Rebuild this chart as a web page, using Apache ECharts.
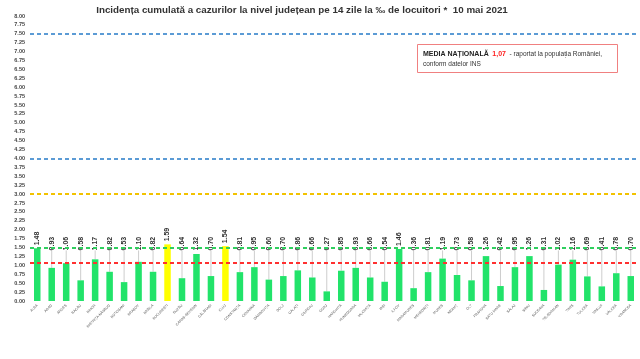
<!DOCTYPE html>
<html><head><meta charset="utf-8">
<script src="https://cdn.jsdelivr.net/npm/echarts@6/dist/echarts.min.js"></script>
<style>html,body{margin:0;padding:0;background:#fff}#c{width:640px;height:359px}</style>
</head><body><div id="c"></div>
<script>
const counties = ['ALBA','ARAD','ARGEȘ','BACĂU','BIHOR','BISTRIȚA-NĂSĂUD','BOTOȘANI','BRAȘOV','BRĂILA','BUCUREȘTI','BUZĂU','CARAȘ-SEVERIN','CĂLĂRAȘI','CLUJ','CONSTANȚA','COVASNA','DÂMBOVIȚA','DOLJ','GALAȚI','GIURGIU','GORJ','HARGHITA','HUNEDOARA','IALOMIȚA','IAȘI','ILFOV','MARAMUREȘ','MEHEDINȚI','MUREȘ','NEAMȚ','OLT','PRAHOVA','SATU MARE','SĂLAJ','SIBIU','SUCEAVA','TELEORMAN','TIMIȘ','TULCEA','VASLUI','VÂLCEA','VRANCEA'];
const incidence = [1.48,0.93,1.06,0.58,1.17,0.82,0.53,1.10,0.82,1.59,0.64,1.32,0.70,1.54,0.81,0.95,0.60,0.70,0.86,0.66,0.27,0.85,0.93,0.66,0.54,1.46,0.36,0.81,1.19,0.73,0.58,1.26,0.42,0.95,1.26,0.31,1.02,1.16,0.69,0.41,0.78,0.70];
const highlighted = ['BUCUREȘTI','CLUJ'];
const thresholds = [7.5, 4.0, 3.0, 1.5];
const nationalAverage = 1.07;
const yTicks = {min: 0, max: 8, interval: 0.25};

const LABEL_LEVEL = 1.42;
const PX_PER_UNIT = (359 - 16 - 58) / 8;
const chart = echarts.init(document.getElementById('c'));
const thrColors = {7.5:'#5b9bd5', 4:'#5b9bd5', 3:'#f2c200', 1.5:'#2fcf5e'};
chart.setOption({
  animation: false,
  title: {
    text: 'Incidența cumulată a cazurilor la nivel județean pe 14 zile la ‰ de locuitori *  10 mai 2021',
    left: 297, top: 0, textAlign: 'center',
    textStyle: {fontFamily: 'Liberation Sans', fontSize: 9.8, fontWeight: 'bold', color: '#333'}
  },
  grid: {left: 30, right: 2, top: 16, bottom: 58},
  xAxis: {
    type: 'category', data: counties,
    axisLine: {show: false}, axisTick: {show: false},
    axisLabel: {rotate: 45, interval: 0, fontSize: 3.5, color: '#555', fontFamily: 'Liberation Sans', margin: 4}
  },
  yAxis: {
    type: 'value', min: yTicks.min, max: yTicks.max, interval: yTicks.interval,
    splitLine: {show: false}, axisLine: {show: false}, axisTick: {show: false},
    axisLabel: {fontSize: 5.5, color: '#444', fontWeight: 'bold', fontFamily: 'Liberation Sans', margin: 5,
      formatter: v => v.toFixed(2)}
  },
  series: [{
    type: 'custom', silent: true, z: 1,
    data: incidence.map((v, i) => [i, v]),
    renderItem: function (params, api) {
      const v = api.value(1);
      const p0 = api.coord([api.value(0), v]);
      const p1 = api.coord([api.value(0), Math.max(v, LABEL_LEVEL)]);
      if (p0[1] - p1[1] < 6) return null;
      return {type: 'line', shape: {x1: p0[0], y1: p0[1], x2: p1[0], y2: p1[1]},
        style: {stroke: '#b8b8b8', lineWidth: 0.7}};
    }
  }, {
    type: 'bar', barWidth: '45%', z: 2,
    data: incidence.map((v, i) => ({
      value: v,
      itemStyle: {color: highlighted.includes(counties[i]) ? '#ffff00' : '#22e36a'},
      label: {distance: 3 + Math.max(0, (LABEL_LEVEL - v) * PX_PER_UNIT - 3)}
    })),
    label: {show: true, position: 'top', rotate: 90, align: 'left', verticalAlign: 'middle',
      fontSize: 7, fontWeight: 'bold', color: '#333',
      fontFamily: 'Liberation Sans', formatter: p => p.value.toFixed(2)},
    markLine: {
      silent: true, symbol: 'none', label: {show: false},
      data: thresholds.map(t => ({yAxis: t, lineStyle: {color: thrColors[t], type: [4, 3], width: 1.8}}))
        .concat([{yAxis: nationalAverage, lineStyle: {color: '#ff3030', type: [4, 3], width: 1.8}}])
    }
  }],
  graphic: [{
    type: 'rect', left: 417, top: 44, shape: {width: 200, height: 28},
    style: {fill: '#fff', stroke: '#f08080', lineWidth: 1}
  }, {
    type: 'text', left: 423, top: 49,
    style: {
      text: '{b|MEDIA NAȚIONALĂ}  {r|1,07}  - raportat la populația României,\nconform datelor INS',
      fontSize: 6.5, fontFamily: 'Liberation Sans', fill: '#333', lineHeight: 10,
      rich: {b: {fontWeight: 'bold', fontSize: 7, fill: '#222'}, r: {fontWeight: 'bold', fontSize: 7, fill: '#ff2020'}}
    }
  }]
});
</script></body></html>
